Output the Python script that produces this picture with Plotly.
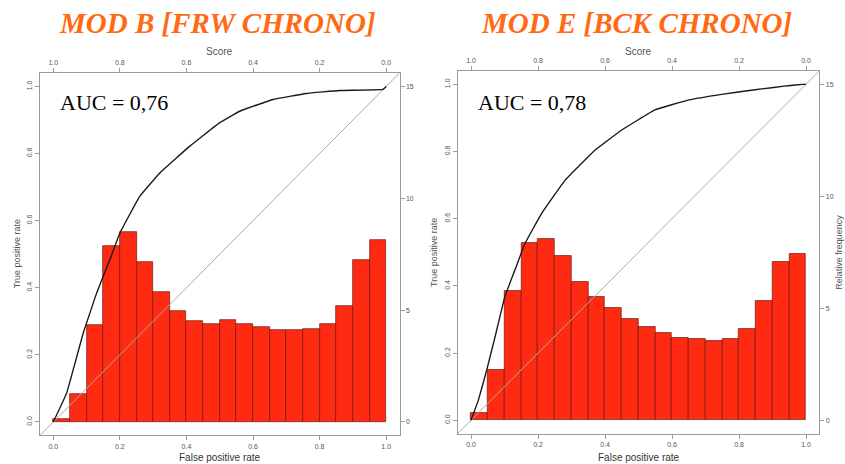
import plotly.graph_objects as go

# ---------------- data ----------------
bin_centers = [0.025 + 0.05 * i for i in range(20)]

freq_B = [0.15, 1.27, 4.35, 7.85, 8.50, 7.13, 5.80, 4.97, 4.50, 4.40,
          4.54, 4.38, 4.24, 4.11, 4.10, 4.17, 4.40, 5.20, 7.25, 8.14]
freq_E = [0.34, 2.25, 5.76, 7.90, 8.11, 7.34, 6.19, 5.50, 5.03, 4.54,
          4.17, 3.91, 3.69, 3.62, 3.54, 3.65, 4.09, 5.31, 7.08, 7.41]

roc_B_fpr = [0, 0.04, 0.09, 0.13, 0.17, 0.20, 0.26, 0.32, 0.41, 0.50, 0.56, 0.66, 0.76, 0.86, 0.99, 1.0]
roc_B_tpr = [0, 0.086, 0.265, 0.384, 0.484, 0.563, 0.673, 0.742, 0.822, 0.892, 0.926, 0.961, 0.979, 0.988, 0.991, 1.0]

roc_E_fpr = [0, 0.022, 0.047, 0.072, 0.101, 0.131, 0.161, 0.211, 0.281, 0.370, 0.450, 0.549, 0.649, 0.748, 0.848, 0.947, 0.99, 1.0]
roc_E_tpr = [0, 0.060, 0.150, 0.249, 0.368, 0.447, 0.526, 0.616, 0.715, 0.804, 0.864, 0.924, 0.953, 0.970, 0.984, 0.996, 1.0, 1.0]

titles = ["MOD B [FRW CHRONO]", "MOD E [BCK CHRONO]"]
auc_labels = ["AUC = 0,76", "AUC = 0,78"]

rate_ticks = [0, 0.2, 0.4, 0.6, 0.8, 1.0]
rate_ticktext = ["0.0", "0.2", "0.4", "0.6", "0.8", "1.0"]
freq_ticks = [0, 5, 10, 15]
diag = [-0.04, 1.04]

# ---------------- layout helpers ----------------
W, H = 845, 464
RED = "#FF2A12"
GRAY = "#9a9a9a"
TXT = "#555555"

panels = [
    dict(box=(40, 399.5, 73, 435.4), freq=freq_B, fpr=roc_B_fpr, tpr=roc_B_tpr,
         xa="x", xs="x2", yf="y", yt="y2", rel=False),
    dict(box=(457.6, 819.4, 70.9, 433.7), freq=freq_E, fpr=roc_E_fpr, tpr=roc_E_tpr,
         xa="x3", xs="x4", yf="y3", yt="y4", rel=True),
]

fig = go.Figure()
layout = dict(width=W, height=H, margin=dict(l=0, r=0, t=0, b=0),
              paper_bgcolor="white", plot_bgcolor="white", showlegend=False,
              bargap=0, annotations=[])

tickfont = dict(family="Liberation Sans, Arial", size=7, color=TXT)

def axname(a):
    return "xaxis" + a[1:] if a.startswith("x") else "yaxis" + a[1:]

def note(text, px, py, size, family="Liberation Sans, Arial", color=TXT, angle=0, xanchor="center"):
    return dict(text=text, x=px / W, y=1 - py / H, xref="paper", yref="paper",
                xanchor=xanchor, yanchor="middle", showarrow=False, textangle=angle,
                font=dict(family=family, size=size, color=color))

for i, p in enumerate(panels):
    x0, x1, ytop, ybot = p["box"]
    dx = [x0 / W, x1 / W]
    dy = [1 - ybot / H, 1 - ytop / H]

    # histogram (base axis: relative frequency on the right)
    fig.add_trace(go.Bar(x=bin_centers, y=p["freq"], width=0.05,
                         marker=dict(color=RED, line=dict(color="#6b1a10", width=0.7)),
                         xaxis=p["xa"], yaxis=p["yf"], hoverinfo="skip"))
    # diagonal
    fig.add_trace(go.Scatter(x=diag, y=diag, mode="lines",
                             line=dict(color="#aaaaaa", width=1),
                             xaxis=p["xa"], yaxis=p["yt"], hoverinfo="skip"))
    # ROC curve
    fig.add_trace(go.Scatter(x=p["fpr"], y=p["tpr"], mode="lines",
                             line=dict(color="#1a1a1a", width=1.4, shape="spline", smoothing=0.25),
                             xaxis=p["xa"], yaxis=p["yt"], hoverinfo="skip"))
    # invisible trace to activate the top score axis
    fig.add_trace(go.Scatter(x=[0.5], y=[0.5], mode="markers", marker=dict(opacity=0),
                             xaxis=p["xs"], yaxis=p["yt"], hoverinfo="skip"))

    common = dict(showgrid=False, zeroline=False, showline=True, linecolor=GRAY,
                  linewidth=1, ticks="outside", ticklen=4, tickcolor=GRAY,
                  tickfont=tickfont, fixedrange=True)

    layout[axname(p["xa"])] = dict(common, domain=dx, anchor=p["yf"], side="bottom",
                                   range=[-0.04, 1.04], tickvals=rate_ticks,
                                   ticktext=rate_ticktext)
    layout[axname(p["xs"])] = dict(common, overlaying=p["xa"], anchor=p["yf"], side="top",
                                   range=[1.04, -0.04], tickvals=rate_ticks,
                                   ticktext=rate_ticktext)
    layout[axname(p["yf"])] = dict(common, domain=dy, anchor=p["xa"], side="right",
                                   range=[-0.6, 15.6], tickvals=freq_ticks)
    layout[axname(p["yt"])] = dict(common, overlaying=p["yf"], anchor=p["xa"], side="left",
                                   range=[-0.04, 1.04], tickvals=rate_ticks,
                                   ticktext=rate_ticktext, tickangle=-90)

    cx = (x0 + x1) / 2
    cy = (ytop + ybot) / 2
    ann = layout["annotations"]
    ann.append(note("<b><i>" + titles[i] + "</i></b>", cx - 2, 23, 29,
                    family="Liberation Serif, Times New Roman", color="#FF6A13"))
    ann.append(note("Score", cx, 52, 10))
    ann.append(note("False positive rate", cx, 457, 10, color="#333333"))
    ann.append(note("True positive rate", x0 - 23, cy, 9, angle=-90))
    if p["rel"]:
        ann.append(note("Relative frequency", x1 + 20, cy, 9, angle=-90))
    ann.append(note(auc_labels[i], x0 + 18, 102, 22,
                    family="Liberation Serif, Times New Roman", color="black", xanchor="left"))

fig.update_layout(**layout)
fig.write_html("out.html")
